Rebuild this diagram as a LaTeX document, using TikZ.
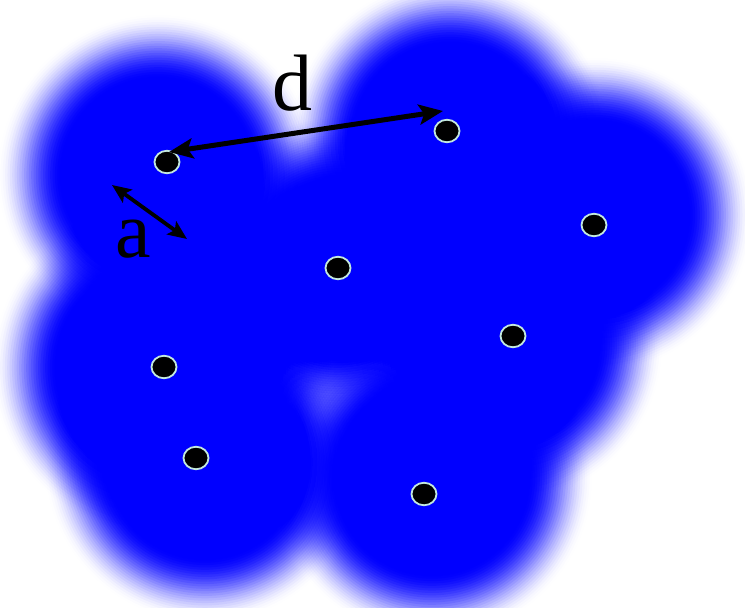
\documentclass[tikz,border=0pt]{standalone}
\usepackage{fontspec}
\setmainfont{Liberation Serif}
\usetikzlibrary{arrows.meta,shapes.geometric}
\definecolor{blobblue}{RGB}{0,0,255}
\definecolor{dotrim}{RGB}{195,232,222}
\tikzset{
  dotnode/.style={ellipse, fill=black, draw=dotrim, line width=1.8pt,
    minimum width=25pt, minimum height=22.5pt, inner sep=0pt},
  lbl/.style={inner sep=0pt, font=\fontsize{80}{80}\selectfont, anchor=base},
  darrow/.style={line width=5pt, {Stealth[length=24pt,width=20pt,inset=5pt]}-{Stealth[length=24pt,width=20pt,inset=5pt]}},
  aarrow/.style={line width=3.8pt, {Stealth[length=19pt,width=16pt,inset=4pt]}-{Stealth[length=19pt,width=16pt,inset=4pt]}}
}
\begin{document}
\begin{tikzpicture}[x=1pt,y=-1pt]
\useasboundingbox (0,0) rectangle (745,608);
\fill[white] (0,0) rectangle (745,608);
% soft blobs: each blob is a stack of translucent discs (smooth edge ramp)
\foreach \bx/\by/\br in {158/175/128, 450/140/128, 595/215/125, 505/345/125,
                         338/268/120, 162/368/137, 205/462/128, 432/478/128}{
  \foreach \k in {1,...,28}{
    \pgfmathsetmacro\dr{32-64*(\k-1)/27}
    \pgfmathsetmacro\ta{(\k-1)/28}
    \pgfmathsetmacro\tb{\k/28}
    \pgfmathsetmacro\ca{3*\ta*\ta-2*\ta*\ta*\ta}
    \pgfmathsetmacro\cb{3*\tb*\tb-2*\tb*\tb*\tb}
    \pgfmathsetmacro\op{(\cb-\ca)/(1-\ca)}
    \fill[blobblue, fill opacity=\op] (\bx,\by) circle[radius=\br pt+\dr pt];
  }
}
% points
\node[dotnode] (p1) at (167,162) {};
\node[dotnode] (p2) at (447,131) {};
\node[dotnode] (p3) at (594,225) {};
\node[dotnode] (p4) at (338,268) {};
\node[dotnode] (p5) at (513,336) {};
\node[dotnode] (p6) at (164,367) {};
\node[dotnode] (p7) at (196,458) {};
\node[dotnode] (p8) at (424,494) {};
% arrows
\coordinate (d1) at (169,152);
\coordinate (d2) at (443,111);
\coordinate (a1) at (112,185);
\coordinate (a2) at (187,239);
\draw[darrow] (d1) -- (d2);
\draw[aarrow] (a1) -- (a2);
% labels
\node[lbl] (dl) at (292,110) {d};
\node[lbl] (al) at (133,257) {a};
\end{tikzpicture}
\end{document}
